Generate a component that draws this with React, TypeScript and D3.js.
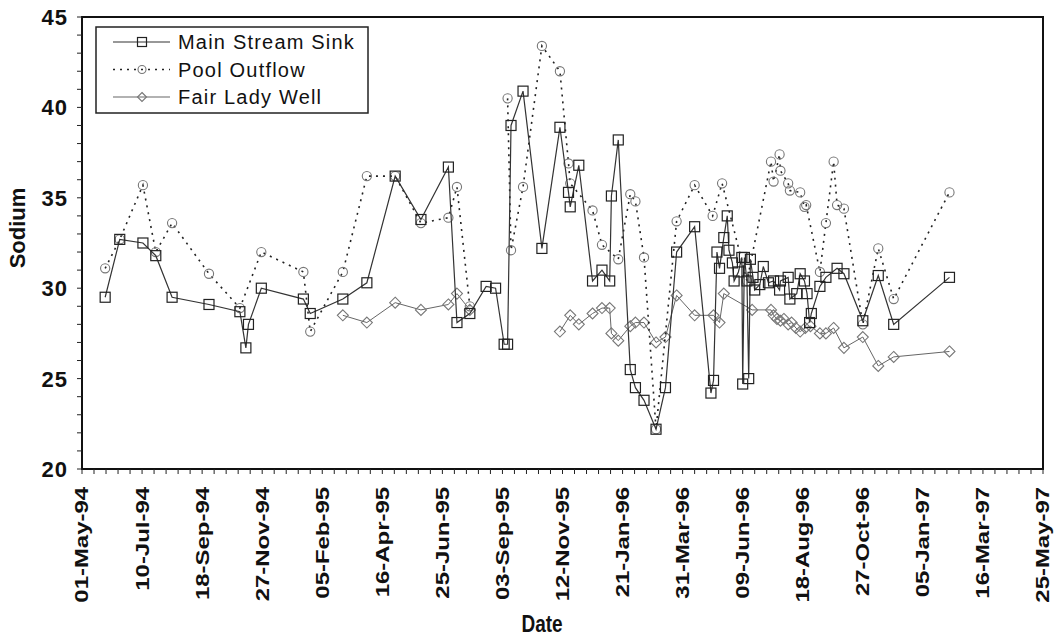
import React from "react";
import * as d3 from "d3";

type Row = [string, number | null];

// Sodium concentration by sampling date
const mainStreamSink: Row[] = [
  ["1994-05-28", 29.5], ["1994-06-14", 32.7], ["1994-07-11", 32.5], ["1994-07-26", 31.8],
  ["1994-08-14", 29.5], ["1994-09-26", 29.1], ["1994-11-01", 28.7], ["1994-11-08", 26.7],
  ["1994-11-11", 28.0], ["1994-11-26", 30.0], ["1995-01-14", 29.4], ["1995-01-22", 28.6],
  ["1995-03-01", 29.4], ["1995-03-29", 30.3], ["1995-05-01", 36.2], ["1995-05-31", 33.8],
  ["1995-07-02", 36.7], ["1995-07-12", 28.1], ["1995-07-27", 28.6], ["1995-08-15", 30.1],
  ["1995-08-26", 30.0], ["1995-09-05", 26.9], ["1995-09-09", 26.9], ["1995-09-13", 39.0],
  ["1995-09-27", 40.9], ["1995-10-19", 32.2], ["1995-11-09", 38.9], ["1995-11-19", 35.3],
  ["1995-11-21", 34.5], ["1995-12-01", 36.8], ["1995-12-17", 30.4], ["1995-12-28", 31.0],
  ["1996-01-06", 30.4], ["1996-01-08", 35.1], ["1996-01-16", 38.2], ["1996-01-30", 25.5],
  ["1996-02-05", 24.5], ["1996-02-15", 23.8], ["1996-02-29", 22.2], ["1996-03-11", 24.5],
  ["1996-03-24", 32.0], ["1996-04-14", 33.4], ["1996-05-03", 24.2], ["1996-05-06", 24.9],
  ["1996-05-10", 32.0], ["1996-05-13", 31.1], ["1996-05-18", 32.8], ["1996-05-22", 34.0],
  ["1996-05-24", 32.1], ["1996-05-28", 31.4], ["1996-05-30", 30.4], ["1996-06-04", 30.9],
  ["1996-06-08", 31.7], ["1996-06-09", 24.7], ["1996-06-11", 31.7], ["1996-06-14", 30.4],
  ["1996-06-16", 25.0], ["1996-06-18", 31.6], ["1996-06-21", 30.6], ["1996-06-23", 29.9],
  ["1996-06-29", 30.2], ["1996-07-03", 31.2], ["1996-07-09", 30.3], ["1996-07-15", 30.4],
  ["1996-07-22", 29.9], ["1996-07-23", 30.4], ["1996-08-01", 30.6], ["1996-08-03", 29.4],
  ["1996-08-11", 29.7], ["1996-08-15", 30.8], ["1996-08-20", 30.4], ["1996-08-23", 29.7],
  ["1996-08-26", 28.1], ["1996-08-28", 28.6], ["1996-09-07", 30.1], ["1996-09-14", 30.6],
  ["1996-09-27", 31.1], ["1996-10-05", 30.8], ["1996-10-27", 28.2], ["1996-11-14", 30.7],
  ["1996-12-02", 28.0], ["1997-02-05", 30.6],
];

const poolOutflow: Row[] = [
  ["1994-05-28", 31.1], ["1994-06-14", 32.7], ["1994-07-11", 35.7], ["1994-07-26", 32.0],
  ["1994-08-14", 33.6], ["1994-09-26", 30.8], ["1994-11-01", 28.9], ["1994-11-26", 32.0],
  ["1995-01-14", 30.9], ["1995-01-22", 27.6], ["1995-03-01", 30.9], ["1995-03-29", 36.2],
  ["1995-05-01", 36.2], ["1995-05-31", 33.6], ["1995-07-02", 33.9], ["1995-07-12", 35.6],
  ["1995-07-27", 29.0], ["1995-08-20", null], ["1995-09-09", 40.5], ["1995-09-13", 32.1],
  ["1995-09-27", 35.6], ["1995-10-19", 43.4], ["1995-11-09", 42.0], ["1995-11-19", 36.9],
  ["1995-11-21", 35.8], ["1995-12-17", 34.3], ["1995-12-28", 32.4], ["1996-01-16", 31.6],
  ["1996-01-30", 35.2], ["1996-02-05", 34.8], ["1996-02-15", 31.7], ["1996-02-29", 22.2],
  ["1996-03-24", 33.7], ["1996-04-14", 35.7], ["1996-05-05", 34.0], ["1996-05-16", 35.8],
  ["1996-06-14", 30.4], ["1996-07-12", 37.0], ["1996-07-15", 35.9], ["1996-07-22", 37.4],
  ["1996-07-23", 36.5], ["1996-08-01", 35.8], ["1996-08-03", 35.4], ["1996-08-15", 35.3],
  ["1996-08-20", 34.5], ["1996-08-22", 34.6], ["1996-09-07", 30.9], ["1996-09-14", 33.6],
  ["1996-09-23", 37.0], ["1996-09-27", 34.6], ["1996-10-05", 34.4], ["1996-10-27", 28.0],
  ["1996-11-14", 32.2], ["1996-12-02", 29.4], ["1997-02-05", 35.3],
];

const fairLadyWell: Row[] = [
  ["1995-03-01", 28.5], ["1995-03-29", 28.1], ["1995-05-01", 29.2], ["1995-05-31", 28.8],
  ["1995-07-02", 29.1], ["1995-07-12", 29.7], ["1995-07-27", 28.8], ["1995-08-20", null],
  ["1995-11-09", 27.6], ["1995-11-21", 28.5], ["1995-12-01", 28.0], ["1995-12-17", 28.6],
  ["1995-12-28", 28.9], ["1996-01-06", 28.9], ["1996-01-08", 27.5], ["1996-01-16", 27.1],
  ["1996-01-30", 27.9], ["1996-02-05", 28.1], ["1996-02-15", 28.1], ["1996-02-29", 27.0],
  ["1996-03-11", 27.3], ["1996-03-24", 29.6], ["1996-04-14", 28.5], ["1996-05-06", 28.5],
  ["1996-05-13", 28.1], ["1996-05-18", 29.7], ["1996-06-20", 28.8], ["1996-07-12", 28.8],
  ["1996-07-15", 28.5], ["1996-07-19", 28.3], ["1996-07-23", 28.2], ["1996-07-27", 28.3],
  ["1996-08-01", 28.0], ["1996-08-05", 28.1], ["1996-08-10", 27.8], ["1996-08-15", 27.6],
  ["1996-08-21", 27.8], ["1996-08-27", 27.9], ["1996-09-07", 27.5], ["1996-09-14", 27.5],
  ["1996-09-23", 27.8], ["1996-10-05", 26.7], ["1996-10-27", 27.3], ["1996-11-14", 25.7],
  ["1996-12-02", 26.2], ["1997-02-05", 26.5],
];

const seriesNames = ["Main Stream Sink", "Pool Outflow", "Fair Lady Well"];
const xDomain = ["1994-05-01", "1997-05-25"];
const xTickStepDays = 70;
const xMinorStepDays = 14;
const yDomain = [20, 45];
const yTicks = [20, 25, 30, 35, 40, 45];

const parse = d3.utcParse("%Y-%m-%d");
const fmt = d3.utcFormat("%d-%b-%y");

const W = 1058;
const H = 639;
const L = 82, R = 1043, T = 17, B = 469;

const x = d3.scaleUtc().domain(xDomain.map((s) => parse(s)!)).range([L, R]);
const y = d3.scaleLinear().domain(yDomain).range([B, T]);

const start = parse(xDomain[0])!;
const end = parse(xDomain[1])!;
const totalDays = d3.utcDay.count(start, end);
const majorTicks = d3.range(0, totalDays + 1, xTickStepDays).map((d) => d3.utcDay.offset(start, d));
const minorTicks = d3.range(0, totalDays + 1, xMinorStepDays).map((d) => d3.utcDay.offset(start, d));
const yMinor = d3.range(yDomain[0], yDomain[1] + 1, 1);

type Pt = { date: Date; value: number | null };
const toPts = (rows: Row[]): Pt[] => rows.map(([d, v]) => ({ date: parse(d)!, value: v }));

const lineGen = d3
  .line<Pt>()
  .defined((d) => d.value != null)
  .x((d) => x(d.date))
  .y((d) => y(d.value as number));

const FONT = "'Liberation Sans', Arial, Helvetica, sans-serif";

function Square({ cx, cy, s = 10, stroke = "#222" }: any) {
  return <rect x={cx - s / 2} y={cy - s / 2} width={s} height={s} fill="none" stroke={stroke} strokeWidth={1.2} />;
}
function Circle({ cx, cy, r = 4.6, stroke = "#777" }: any) {
  return <circle cx={cx} cy={cy} r={r} fill="none" stroke={stroke} strokeWidth={1.1} />;
}
function Diamond({ cx, cy, s = 5.5, stroke = "#777" }: any) {
  return (
    <path
      d={`M${cx},${cy - s}L${cx + s},${cy}L${cx},${cy + s}L${cx - s},${cy}Z`}
      fill="none"
      stroke={stroke}
      strokeWidth={1.1}
    />
  );
}

export default function App() {
  const main = toPts(mainStreamSink);
  const pool = toPts(poolOutflow);
  const fair = toPts(fairLadyWell);

  const legendRows = [
    { name: seriesNames[0], dash: undefined, stroke: "#333", marker: "square" },
    { name: seriesNames[1], dash: "2,5", stroke: "#222", marker: "circle" },
    { name: seriesNames[2], dash: undefined, stroke: "#666", marker: "diamond" },
  ];

  return (
    <svg
      width={W}
      height={H}
      viewBox={`0 0 ${W} ${H}`}
      style={{ position: "absolute", left: 0, top: 0, background: "#fff" }}
      fontFamily={FONT}
    >
      <rect x={0} y={0} width={W} height={H} fill="#fff" />

      {/* Fair Lady Well */}
      <path d={lineGen(fair) || ""} fill="none" stroke="#666" strokeWidth={1} />
      {fair.filter((d) => d.value != null).map((d, i) => (
        <Diamond key={"f" + i} cx={x(d.date)} cy={y(d.value as number)} />
      ))}

      {/* Pool Outflow */}
      <path d={lineGen(pool) || ""} fill="none" stroke="#222" strokeWidth={1.6} strokeDasharray="2,5" />
      {pool.filter((d) => d.value != null).map((d, i) => (
        <Circle key={"p" + i} cx={x(d.date)} cy={y(d.value as number)} />
      ))}

      {/* Main Stream Sink */}
      <path d={lineGen(main) || ""} fill="none" stroke="#333" strokeWidth={1.2} />
      {main.filter((d) => d.value != null).map((d, i) => (
        <Square key={"m" + i} cx={x(d.date)} cy={y(d.value as number)} />
      ))}

      {/* plot frame */}
      <rect x={L} y={T} width={R - L} height={B - T} fill="none" stroke="#111" strokeWidth={2} />

      {/* y axis ticks */}
      {yMinor.map((v) => (
        <line key={"ym" + v} x1={L - 5} x2={L} y1={y(v)} y2={y(v)} stroke="#222" strokeWidth={1} />
      ))}
      {yTicks.map((v) => (
        <text
          key={"yl" + v}
          x={L - 14}
          y={y(v)}
          dy="0.36em"
          textAnchor="end"
          fontSize={22}
          fontWeight="bold"
          letterSpacing={1}
          fill="#111"
        >
          {v}
        </text>
      ))}

      {/* x axis ticks */}
      {minorTicks.map((d, i) => (
        <line key={"xm" + i} x1={x(d)} x2={x(d)} y1={B} y2={B + 5} stroke="#222" strokeWidth={1} />
      ))}
      {majorTicks.map((d, i) => (
        <g key={"xl" + i} transform={`translate(${x(d)},${B + 18}) rotate(-90) scale(1.33,1)`}>
          <text
            x={0}
            y={0}
            dy="0.36em"
            textAnchor="end"
            fontSize={18}
            fontWeight="bold"
            fill="#111"
          >
            {fmt(d)}
          </text>
        </g>
      ))}

      {/* axis titles */}
      <g transform={`translate(${542},${623}) scale(1,1.25)`}>
        <text x={0} y={0} dy="0.36em" textAnchor="middle" fontSize={19} fontWeight="bold" fill="#111">
          Date
        </text>
      </g>
      <g transform={`translate(${17},${228}) rotate(-90)`}>
        <text x={0} y={0} dy="0.36em" textAnchor="middle" fontSize={22} fontWeight="bold" fill="#111">
          Sodium
        </text>
      </g>

      {/* legend */}
      <rect x={96} y={27} width={272} height={86} fill="#fff" stroke="#222" strokeWidth={1.5} />
      {legendRows.map((r, i) => {
        const cy = 42 + i * 27.5;
        return (
          <g key={"lg" + i}>
            <line
              x1={113}
              x2={170}
              y1={cy}
              y2={cy}
              stroke={r.stroke}
              strokeWidth={r.dash ? 1.6 : 1.2}
              strokeDasharray={r.dash}
            />
            {r.marker === "square" && <Square cx={142} cy={cy} s={9} />}
            {r.marker === "circle" && <Circle cx={142} cy={cy} r={4} />}
            {r.marker === "diamond" && <Diamond cx={142} cy={cy} s={4.5} />}
            <text x={178} y={cy} dy="0.36em" fontSize={20} letterSpacing={1.2} fill="#111">
              {r.name}
            </text>
          </g>
        );
      })}
    </svg>
  );
}
